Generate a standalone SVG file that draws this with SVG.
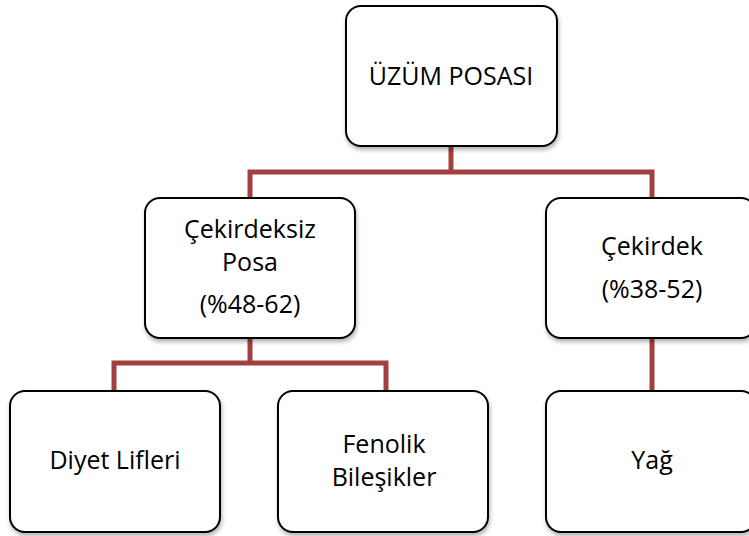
<svg xmlns="http://www.w3.org/2000/svg" width="749" height="536" viewBox="0 0 749 536">
<defs>
<filter id="sh" x="-10%" y="-10%" width="130%" height="130%">
<feDropShadow dx="1" dy="3" stdDeviation="2" flood-color="#000" flood-opacity="0.3"/>
</filter>
<style>
.box{fill:#fff;stroke:#000;stroke-width:2;filter:url(#sh)}
.t{font-family:"Open Sans","Liberation Sans",Arial,sans-serif;font-size:25px;fill:#000;text-anchor:middle}
.c{fill:none;stroke:#a3403f;stroke-width:5;stroke-linejoin:miter}
</style>
</defs>
<rect width="749" height="536" fill="#fff"/>
<g id="connectors">
<path class="c" d="M250 198 V172 H652 V198"/>
<path class="c" d="M451 146 V174" stroke-width="8"/>
<path class="c" d="M114 391 V363 H386 V391"/>
<path class="c" d="M250 338 V363"/>
<path class="c" d="M652 338 V391"/>
</g>
<g id="root">
<rect class="box" x="346" y="6" width="211" height="140" rx="15"/>
<text class="t" x="451" y="85">ÜZÜM POSASI</text>
</g>
<g id="cekirdeksiz">
<rect class="box" x="145" y="198" width="210" height="140" rx="15"/>
<text class="t" x="250" y="238">Çekirdeksiz</text>
<text class="t" x="250" y="271">Posa</text>
<text class="t" x="250" y="313">(%48-62)</text>
</g>
<g id="cekirdek">
<rect class="box" x="546" y="198" width="210" height="140" rx="15"/>
<text class="t" x="652" y="255">Çekirdek</text>
<text class="t" x="652" y="298">(%38-52)</text>
</g>
<g id="diyet">
<rect class="box" x="10" y="391" width="210" height="141" rx="15"/>
<text class="t" x="115" y="469">Diyet Lifleri</text>
</g>
<g id="fenolik">
<rect class="box" x="278" y="391" width="210" height="141" rx="15"/>
<text class="t" x="384" y="453">Fenolik</text>
<text class="t" x="384" y="486">Bileşikler</text>
</g>
<g id="yag">
<rect class="box" x="546" y="391" width="210" height="141" rx="15"/>
<text class="t" x="652" y="469">Yağ</text>
</g>
</svg>
